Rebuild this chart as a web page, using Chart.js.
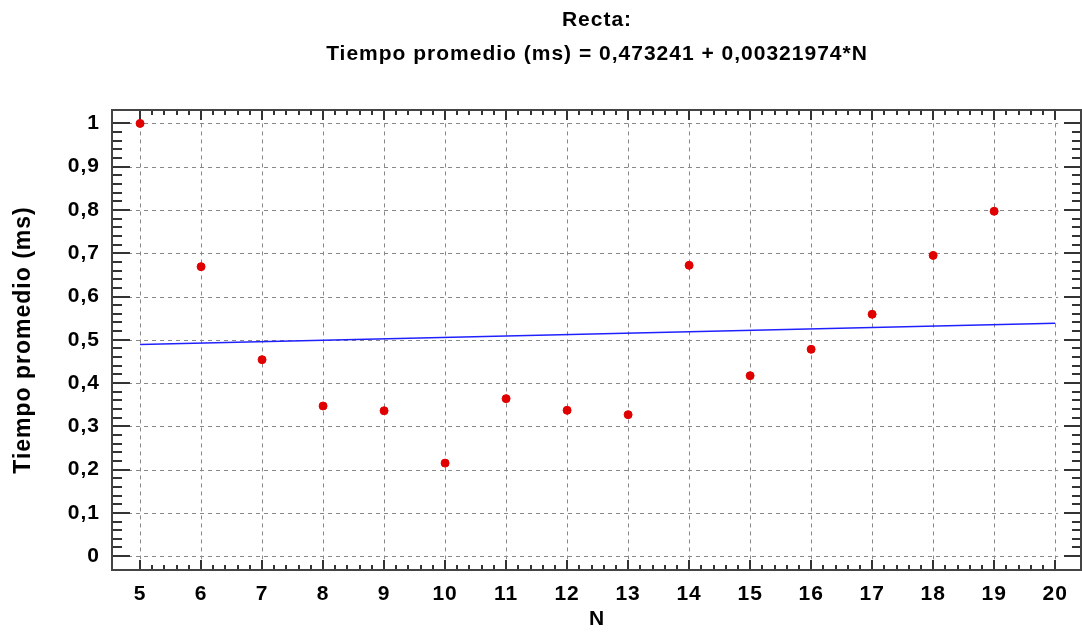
<!DOCTYPE html>
<html>
<head>
<meta charset="utf-8">
<script src="https://cdn.jsdelivr.net/npm/chart.js@4/dist/chart.umd.min.js"></script>
<style>
  html, body { margin: 0; padding: 0; background: #fff; }
  #wrap { width: 1082px; height: 633px; position: relative; }
</style>
</head>
<body>
<div id="wrap"><canvas id="chart"></canvas></div>
<script>
// data
var nValues = [5, 6, 7, 8, 9, 10, 11, 12, 13, 14, 15, 16, 17, 18, 19];
var tiempoValues = [1.0, 0.669, 0.454, 0.347, 0.336, 0.215, 0.364, 0.337, 0.327, 0.672, 0.417, 0.478, 0.559, 0.695, 0.797];
var rectaN = [5, 20];
var rectaValues = [0.489, 0.538];
var xTicks = [5, 6, 7, 8, 9, 10, 11, 12, 13, 14, 15, 16, 17, 18, 19, 20];
var yTicks = [0, 0.1, 0.2, 0.3, 0.4, 0.5, 0.6, 0.7, 0.8, 0.9, 1];
var titleLines = ['Recta:', 'Tiempo promedio (ms) = 0,473241 + 0,00321974*N'];

var FONT = "'Liberation Sans', Arial, sans-serif";

function toPoints(xs, ys) {
    return xs.map(function(x, i) { return { x: x, y: ys[i] }; });
}

// frame, dashed grid and inner tick marks like the original plot
var framePlugin = {
    id: 'frame',
    beforeDraw: function(chart) {
        // the original text is a bit wider than Liberation Sans
        chart.ctx.letterSpacing = '1px';
    },
    beforeDatasetsDraw: function(chart) {
        var ctx = chart.ctx, a = chart.chartArea;
        var xs = chart.scales.x, ys = chart.scales.y;
        var x1 = xs.getPixelForValue(xTicks[xTicks.length - 1]);
        var y0 = ys.getPixelForValue(yTicks[0]), y1 = ys.getPixelForValue(yTicks[yTicks.length - 1]);
        ctx.save();
        ctx.strokeStyle = '#888';
        ctx.lineWidth = 1;
        ctx.setLineDash([4, 4]);
        xTicks.forEach(function(v) {
            var p = Math.round(xs.getPixelForValue(v)) + 0.5;
            ctx.beginPath(); ctx.moveTo(p, y1); ctx.lineTo(p, y0 + 3); ctx.stroke();
        });
        yTicks.forEach(function(v) {
            var p = Math.round(ys.getPixelForValue(v)) + 0.5;
            ctx.beginPath(); ctx.moveTo(a.left, p); ctx.lineTo(x1 + 3, p); ctx.stroke();
        });
        ctx.setLineDash([]);
        ctx.strokeStyle = '#333';
        ctx.lineWidth = 2;
        // x ticks, top and bottom
        for (var i = 0; i < xTicks.length; i++) {
            for (var k = 0; k < 5; k++) {
                if (i === xTicks.length - 1 && k > 0) break;
                var v = xTicks[i] + k * 0.2;
                var p = Math.round(xs.getPixelForValue(v));
                var len = k === 0 ? 10 : 5;
                ctx.beginPath(); ctx.moveTo(p, a.bottom); ctx.lineTo(p, a.bottom - len); ctx.stroke();
                ctx.beginPath(); ctx.moveTo(p, a.top); ctx.lineTo(p, a.top + len); ctx.stroke();
            }
        }
        // y ticks, left and right
        for (var j = 0; j < yTicks.length; j++) {
            for (var m = 0; m < 5; m++) {
                if (j === yTicks.length - 1 && m > 0) break;
                var vy = yTicks[j] + m * 0.02;
                var py = Math.round(ys.getPixelForValue(vy));
                var ln = m === 0 ? 18 : 10;
                ctx.beginPath(); ctx.moveTo(a.left, py); ctx.lineTo(a.left + ln, py); ctx.stroke();
                ctx.beginPath(); ctx.moveTo(a.right, py); ctx.lineTo(a.right - ln, py); ctx.stroke();
            }
        }
        ctx.strokeStyle = '#444';
        ctx.lineWidth = 2;
        ctx.strokeRect(a.left, a.top, a.right - a.left - 1, a.bottom - a.top);
        ctx.restore();
    },
    afterDraw: function(chart) {
        var ctx = chart.ctx, a = chart.chartArea;
        var cx = (a.left + a.right) / 2;
        ctx.save();
        ctx.letterSpacing = '1px';
        ctx.fillStyle = '#000';
        ctx.font = 'bold 21px ' + FONT;
        ctx.textAlign = 'center';
        ctx.textBaseline = 'middle';
        ctx.fillText(titleLines[0], cx, 20);
        ctx.fillText(titleLines[1], cx, 54);
        ctx.restore();
    }
};

var ctx = document.getElementById('chart').getContext('2d');
var myChart = new Chart(ctx, {
    type: 'scatter',
    data: {
        datasets: [{
            label: 'Tiempo promedio (ms)',
            data: toPoints(nValues, tiempoValues),
            backgroundColor: '#e00000',
            borderColor: '#e00000',
            pointRadius: 4,
            pointHoverRadius: 4,
            order: 1
        }, {
            label: 'Recta',
            type: 'line',
            data: toPoints(rectaN, rectaValues),
            borderColor: '#2020ff',
            borderWidth: 1.5,
            pointRadius: 0,
            fill: false,
            order: 2
        }]
    },
    options: {
        responsive: true,
        maintainAspectRatio: false,
        animation: false,
        layout: { autoPadding: false, padding: { top: 110, right: 0, left: 0, bottom: 0 } },
        plugins: {
            legend: { display: false },
            title: { display: false },
            tooltip: { enabled: false }
        },
        scales: {
            x: {
                type: 'linear',
                min: 4.54,
                max: 20.44,
                grid: { display: false, drawTicks: false },
                border: { display: false },
                afterBuildTicks: function(scale) {
                    scale.ticks = xTicks.map(function(v) { return { value: v }; });
                },
                afterFit: function(scale) {
                    scale.height = 63;
                    scale.paddingLeft = 0;
                    scale.paddingRight = 0;
                },
                ticks: {
                    padding: 12,
                    color: '#000',
                    font: { family: FONT, size: 21, weight: 'bold' },
                    maxRotation: 0,
                    autoSkip: false
                },
                title: {
                    display: true,
                    text: 'N',
                    color: '#000',
                    font: { family: FONT, size: 21, weight: 'bold' },
                    padding: { top: 0, bottom: 1 }
                }
            },
            y: {
                min: -0.032,
                max: 1.031,
                grid: { display: false, drawTicks: false },
                border: { display: false },
                afterBuildTicks: function(scale) {
                    scale.ticks = yTicks.map(function(v) { return { value: v }; });
                },
                afterFit: function(scale) {
                    scale.width = 112;
                    scale.paddingTop = 0;
                    scale.paddingBottom = 0;
                },
                ticks: {
                    padding: 12,
                    color: '#000',
                    font: { family: FONT, size: 21, weight: 'bold' },
                    autoSkip: false,
                    callback: function(v) {
                        return String(Math.round(v * 10) / 10).replace('.', ',');
                    }
                },
                title: {
                    display: true,
                    text: 'Tiempo promedio (ms)',
                    color: '#000',
                    font: { family: FONT, size: 23, weight: 'bold' },
                    padding: { top: 10, bottom: 0 }
                }
            }
        }
    },
    plugins: [framePlugin]
});
</script>
</body>
</html>
